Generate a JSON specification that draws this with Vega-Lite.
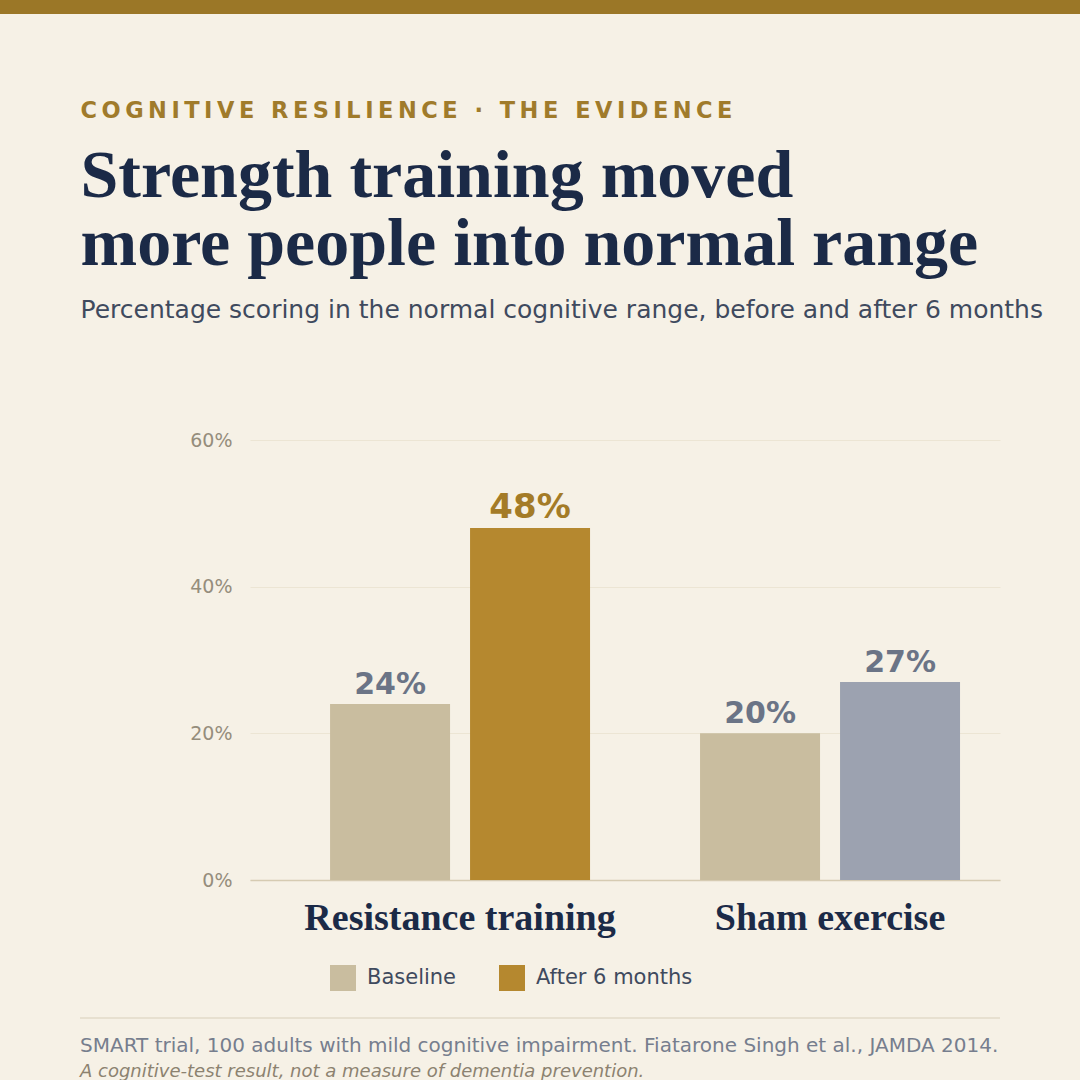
{
  "$schema": "https://vega.github.io/schema/vega-lite/v6.json",
  "autosize": "none",
  "width": 750,
  "height": 440,
  "padding": {"left": 250, "top": 440, "right": 80, "bottom": 200},
  "background": "#f6f1e6",
  "config": {
    "view": {"stroke": null},
    "font": "DejaVu Sans"
  },
  "title": {
    "text": "SMART trial, 100 adults with mild cognitive impairment. Fiatarone Singh et al., JAMDA 2014.",
    "subtitle": "A cognitive-test result, not a measure of dementia prevention.",
    "orient": "bottom",
    "anchor": "start",
    "frame": "group",
    "dx": -170,
    "offset": 17,
    "font": "DejaVu Sans",
    "fontSize": 20,
    "fontWeight": "normal",
    "color": "#767e8e",
    "subtitleFont": "DejaVu Sans",
    "subtitleFontSize": 18,
    "subtitleFontStyle": "italic",
    "subtitleColor": "#8c8270",
    "subtitlePadding": 7
  },
  "data": {
    "values": [
      {"group": "Resistance training", "phase": "Baseline", "value": 0.24},
      {"group": "Resistance training", "phase": "After 6 months", "value": 0.48},
      {"group": "Sham exercise", "phase": "Baseline", "value": 0.20},
      {"group": "Sham exercise", "phase": "After 6 months", "value": 0.27}
    ]
  },
  "layer": [
    {
      "data": {"values": [{}]},
      "mark": {"type": "rect", "color": "#9b7727"},
      "encoding": {
        "x": {"value": -250},
        "x2": {"value": 830},
        "y": {"value": -440},
        "y2": {"value": -426}
      }
    },
    {
      "data": {"values": [{}]},
      "mark": {"type": "rule", "color": "#e2dac8", "strokeWidth": 1.5},
      "encoding": {
        "x": {"value": -170},
        "x2": {"value": 750},
        "y": {"value": 578}
      }
    },
    {
      "mark": {"type": "bar"},
      "encoding": {
        "x": {
          "field": "group",
          "type": "nominal",
          "sort": ["Resistance training", "Sham exercise"],
          "scale": {"paddingInner": 0.2973, "paddingOuter": 0.1622, "align": 0.667},
          "axis": {
            "labelAngle": 0,
            "labelLimit": 0,
            "labelFont": "Liberation Serif",
            "labelFontWeight": "bold",
            "labelFontSize": 38,
            "labelColor": "#1b2a47",
            "labelPadding": 19,
            "ticks": false,
            "domain": true,
            "domainColor": "#d6cbb2",
            "domainWidth": 1.5,
            "title": ["Strength training moved", "more people into normal range"],
            "titleX": -170,
            "titleY": -684,
            "titleAlign": "left",
            "titleBaseline": "alphabetic",
            "titleFont": "Liberation Serif",
            "titleFontWeight": "bold",
            "titleFontSize": 68,
            "titleLineHeight": 68,
            "titleLimit": 0,
            "titleColor": "#1b2a47"
          }
        },
        "xOffset": {
          "field": "phase",
          "type": "nominal",
          "sort": ["Baseline", "After 6 months"],
          "scale": {"paddingInner": 0.142857, "paddingOuter": 0}
        },
        "y": {
          "field": "value",
          "type": "quantitative",
          "scale": {"domain": [0, 0.6]},
          "axis": {
            "values": [0, 0.2, 0.4, 0.6],
            "format": ".0%",
            "labelFont": "DejaVu Sans",
            "labelFontSize": 19,
            "labelColor": "#958d7c",
            "labelPadding": 18,
            "ticks": false,
            "domain": false,
            "grid": true,
            "gridColor": "#ece5d4",
            "gridWidth": 1,
            "title": "C\u2009O\u2009G\u2009N\u2009I\u2009T\u2009I\u2009V\u2009E\u2009 \u2009R\u2009E\u2009S\u2009I\u2009L\u2009I\u2009E\u2009N\u2009C\u2009E\u2009 \u2009·\u2009 \u2009T\u2009H\u2009E\u2009 \u2009E\u2009V\u2009I\u2009D\u2009E\u2009N\u2009C\u2009E",
            "titleX": -170,
            "titleY": -323,
            "titleAngle": 0,
            "titleAlign": "left",
            "titleBaseline": "alphabetic",
            "titleFont": "DejaVu Sans",
            "titleFontWeight": "bold",
            "titleFontSize": 22.5,
            "titleLimit": 0,
            "titleColor": "#a07b2b"
          }
        },
        "color": {
          "field": "phase",
          "type": "nominal",
          "scale": {"domain": ["Baseline", "After 6 months"], "range": ["#c9bd9f", "#b5882f"]},
          "condition": {"test": "datum.group === 'Sham exercise' && datum.phase === 'After 6 months'", "value": "#9ca2b0"},
          "legend": {
            "orient": "none",
            "legendX": 80,
            "legendY": 525,
            "direction": "horizontal",
            "title": null,
            "padding": 0,
            "symbolType": "square",
            "symbolSize": 676,
            "symbolStrokeWidth": 0,
            "symbolOpacity": 1,
            "labelFont": "DejaVu Sans",
            "labelFontSize": 21,
            "labelColor": "#3f4a5e",
            "labelOffset": 11,
            "columnPadding": 42
          }
        }
      }
    },
    {
      "mark": {"type": "text", "font": "DejaVu Sans", "fontWeight": "bold", "baseline": "alphabetic", "align": "center", "dy": -10},
      "encoding": {
        "x": {"field": "group", "type": "nominal", "sort": ["Resistance training", "Sham exercise"]},
        "xOffset": {"field": "phase", "type": "nominal", "sort": ["Baseline", "After 6 months"]},
        "y": {
          "field": "value",
          "type": "quantitative",
          "axis": {
            "orient": "right",
            "labels": false,
            "ticks": false,
            "domain": false,
            "grid": false,
            "title": "Percentage scoring in the normal cognitive range, before and after 6 months",
            "titleX": -920,
            "titleY": -123,
            "titleAngle": 0,
            "titleAlign": "left",
            "titleBaseline": "alphabetic",
            "titleFont": "DejaVu Sans",
            "titleFontWeight": "normal",
            "titleFontSize": 25,
            "titleLimit": 0,
            "titleColor": "#3f4a5e"
          }
        },
        "text": {"field": "value", "type": "quantitative", "format": ".0%"},
        "size": {
          "condition": {"test": "datum.group === 'Resistance training' && datum.phase === 'After 6 months'", "value": 34},
          "value": 30
        },
        "color": {
          "condition": {"test": "datum.group === 'Resistance training' && datum.phase === 'After 6 months'", "value": "#a47b27"},
          "value": "#6b7486"
        }
      }
    }
  ],
  "resolve": {"axis": {"y": "independent"}}
}
